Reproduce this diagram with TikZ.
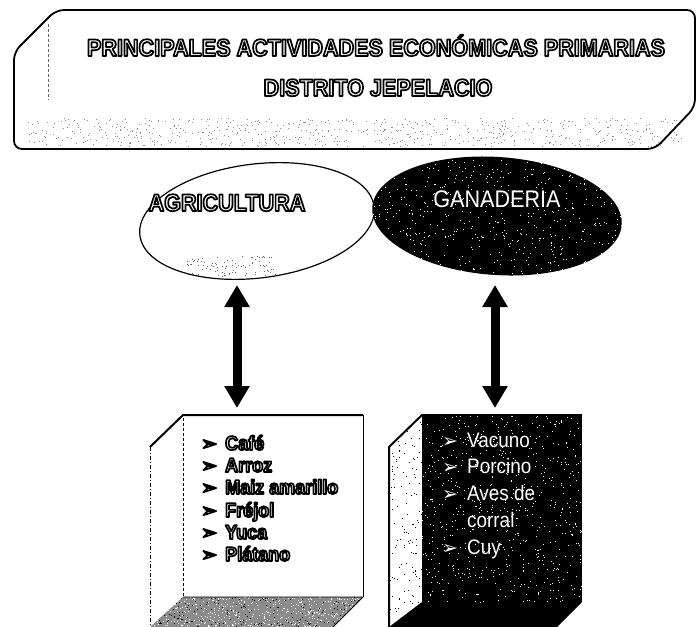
\documentclass[tikz,border=0pt]{standalone}
\usepackage{fontspec}
\setmainfont{Liberation Sans}
\newfontfamily\nf{Liberation Sans}[FakeStretch=0.9]
\newfontfamily\dv{DejaVu Sans}
\usetikzlibrary{arrows.meta,shapes.geometric}
\newcommand\olt[1]{\special{pdf:literal direct 2 Tr 1.7 w 1 j 0 G}#1\special{pdf:literal direct 0 Tr}}
\newcommand\bl{{\dv\fontsize{19pt}{19pt}\selectfont ➢}}
\newcommand\speck[6]{\foreach \k in {1,...,#6}{\fill[#1] ({#2+#4*rnd},{#3+#5*rnd}) rectangle ++(0.9,0.9);}}
\tikzset{
  ttl/.style={anchor=base, inner sep=0pt, text=white, font=\nf\bfseries\fontsize{24pt}{28pt}\selectfont},
  gnl/.style={anchor=base, inner sep=0pt, text=white, font=\nf\fontsize{24pt}{28pt}\selectfont},
  lst/.style={anchor=base west, inner sep=0pt, text=white, font=\nf\bfseries\fontsize{20pt}{24pt}\selectfont},
  rlst/.style={anchor=base west, inner sep=0pt, text=white, font=\nf\fontsize{21pt}{25pt}\selectfont},
  dbl/.style={line width=9pt, {Triangle[width=24pt,length=22pt]}-{Triangle[width=24pt,length=22pt]}},
  thick edge/.style={line width=2pt, line join=round},
}
\begin{document}
\begin{tikzpicture}[x=1pt,y=-1pt]
\useasboundingbox (0,0) rectangle (697,627);
\pgfmathsetseed{7}
% ---------- banner ----------
\begin{scope}
\clip (14,10) rectangle (695,149);
\speck{black!45}{28}{118}{655}{28}{650}
\end{scope}
\draw[line width=1.8pt, rounded corners=8pt] (56,10) -- (695,10) -- (695,107) -- (655,149) -- (14,149) -- (14,52) -- cycle;
\draw[line width=0.4pt, densely dashed, black!60] (48,24) -- (48,100);
\node[ttl] (t1) at (376,56) {\olt{PRINCIPALES ACTIVIDADES ECONÓMICAS PRIMARIAS}};
\node[ttl] (t2) at (378,96) {\olt{DISTRITO JEPELACIO}};
% ---------- ellipses ----------
\draw[line width=1.2pt, fill=white, rotate around={7:(257,221)}] (257,221) ellipse [x radius=118, y radius=57];
\begin{scope}
\clip[rotate around={7:(257,221)}] (257,221) ellipse [x radius=117, y radius=56];
\speck{black!60}{185}{256}{90}{20}{90}
\end{scope}
\fill[black, rotate around={-4:(497,216)}] (497,216) ellipse [x radius=125, y radius=59];
\begin{scope}
\clip[rotate around={-4:(497,216)}] (497,216) ellipse [x radius=125, y radius=59];
\speck{white}{372}{150}{252}{135}{650}
\end{scope}
\node[ttl] (agri) at (227,211) {\olt{AGRICULTURA}};
\node[gnl] (gana) at (497,207) {GANADERIA};
% ---------- arrows ----------
\coordinate (a1t) at (237,285);
\coordinate (a1b) at (237,408);
\coordinate (a2t) at (495,285);
\coordinate (a2b) at (495,408);
\draw[dbl] (a1t) -- (a1b);
\draw[dbl] (a2t) -- (a2b);
% ---------- left box ----------
\fill[black!45] (183,597) -- (363,597) -- (333,627) -- (150,627) -- cycle;
\begin{scope}
\clip (183,597) -- (363,597) -- (333,627) -- (150,627) -- cycle;
\speck{white}{150}{597}{213}{30}{500}
\speck{black}{150}{597}{213}{30}{200}
\end{scope}
\draw[thick edge] (150,447) -- (183,415) -- (363,415);
\draw[line width=0.6pt] (363,415) -- (363,597);
\draw[line width=0.8pt] (183,597) -- (363,597) -- (333,627);
\draw[line width=0.5pt, dash pattern=on 4pt off 2pt on 1pt off 2pt] (150,447) -- (150,627);
\draw[line width=0.5pt, densely dashed] (183,418) -- (183,597);
\node[lst] (l1) at (201,450) {\olt{\makebox[24pt][l]{\bl}Café}};
\node[lst] (l2) at (201,472) {\olt{\makebox[24pt][l]{\bl}Arroz}};
\node[lst] (l3) at (201,494) {\olt{\makebox[24pt][l]{\bl}Maiz amarillo}};
\node[lst] (l4) at (201,517) {\olt{\makebox[24pt][l]{\bl}Fréjol}};
\node[lst] (l5) at (201,539) {\olt{\makebox[24pt][l]{\bl}Yuca}};
\node[lst] (l6) at (201,561) {\olt{\makebox[24pt][l]{\bl}Plátano}};
% ---------- right box ----------
\fill[black] (422,415) rectangle (582,602);
\fill[black] (422,602) -- (582,602) -- (557,627) -- (389,627) -- cycle;
\begin{scope}
\clip (422,415) rectangle (582,602);
\speck{white}{422}{415}{160}{187}{650}
\end{scope}
\begin{scope}
\clip (422,415) -- (389,447) -- (389,627) -- (422,602) -- cycle;
\speck{black}{389}{415}{33}{212}{140}
\end{scope}
\draw[thick edge] (389,627) -- (389,447) -- (422,415) -- (582,415);
\node[rlst] (r1) at (442,447) {\makebox[25pt][l]{\bl}Vacuno};
\node[rlst] (r2) at (442,473) {\makebox[25pt][l]{\bl}Porcino};
\node[rlst] (r3) at (442,500) {\makebox[25pt][l]{\bl}Aves de};
\node[rlst] (r4) at (467,527) {corral};
\node[rlst] (r5) at (442,554) {\makebox[25pt][l]{\bl}Cuy};
\end{tikzpicture}
\end{document}
